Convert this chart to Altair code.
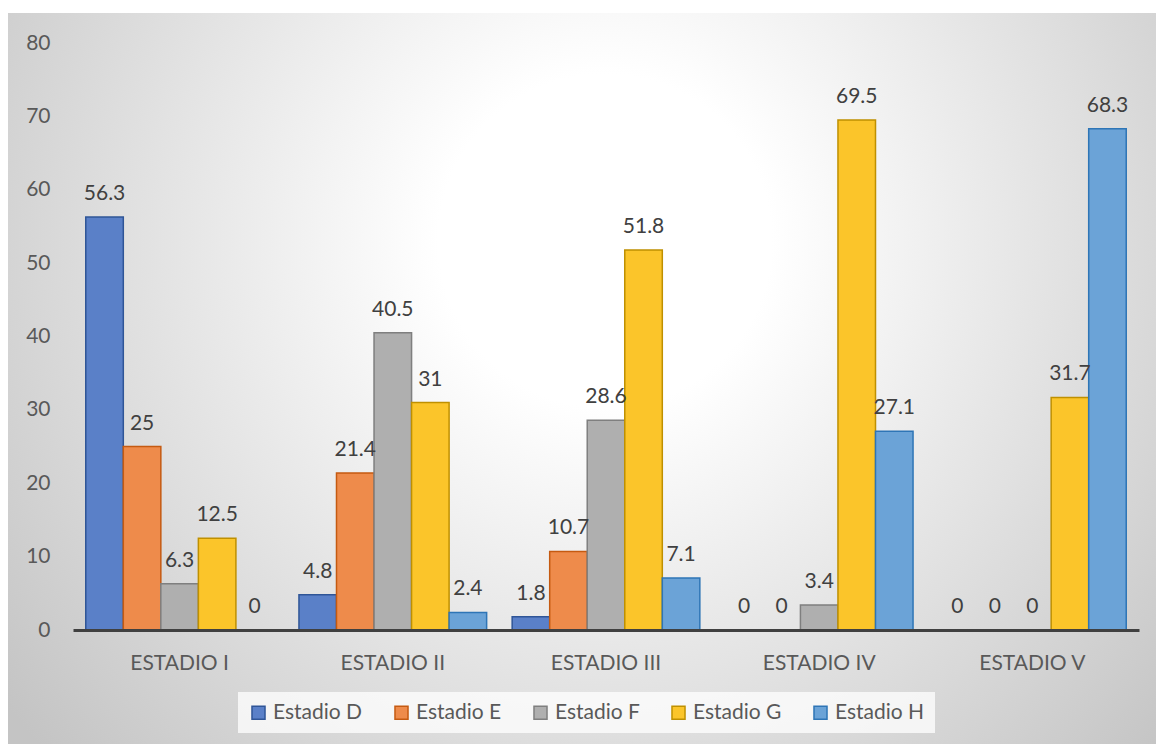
import altair as alt
import pandas as pd

categories = ["ESTADIO I", "ESTADIO II", "ESTADIO III", "ESTADIO IV", "ESTADIO V"]
series = ["Estadio D", "Estadio E", "Estadio F", "Estadio G", "Estadio H"]
estadio_d = [56.3, 4.8, 1.8, 0, 0]
estadio_e = [25, 21.4, 10.7, 0, 0]
estadio_f = [6.3, 40.5, 28.6, 3.4, 0]
estadio_g = [12.5, 31, 51.8, 69.5, 31.7]
estadio_h = [0, 2.4, 7.1, 27.1, 68.3]
y_ticks = [0, 10, 20, 30, 40, 50, 60, 70, 80]

fills = ["#5A80C8", "#EE8B4B", "#AFAFAF", "#FBC52A", "#6BA3D7"]
strokes = ["#2F5597", "#C55A11", "#7F7F7F", "#BF9000", "#2E75B6"]

rows = []
for s, vals in zip(series, [estadio_d, estadio_e, estadio_f, estadio_g, estadio_h]):
    for c, v in zip(categories, vals):
        rows.append({"cat": c, "serie": s, "value": v, "label": f"{v:g}"})
df = pd.DataFrame(rows)

FONT = "Lato"
W, H = 1066, 587

grad = alt.RadialGradient(
    gradient="radial",
    stops=[
        alt.GradientStop(color="#ffffff", offset=0),
        alt.GradientStop(color="#ffffff", offset=0.22),
        alt.GradientStop(color="#c4c4c4", offset=1),
    ],
    x1=0.52, y1=0.38, r1=0, x2=0.52, y2=0.38, r2=0.66,
)

bg = alt.Chart(pd.DataFrame({"a": [0]})).mark_rect(fill=grad).encode(
    x=alt.value(-65), x2=alt.value(1083), y=alt.value(-30), y2=alt.value(701)
)

legend = alt.Legend(
    title=None, orient="none", legendX=165, legendY=649, direction="horizontal",
    fillColor="rgba(255,255,255,0.75)", padding=10, symbolType="square",
    symbolSize=170, symbolStrokeWidth=1.5, labelFontSize=21, labelFont=FONT,
    labelColor="#595959", columnPadding=28, labelOffset=4,
)

x_enc = alt.X(
    "cat:N", sort=categories,
    scale=alt.Scale(paddingInner=0, paddingOuter=0),
    axis=alt.Axis(
        title=None, labelAngle=0, ticks=False, tickSize=0, domainColor="#404040",
        domainWidth=3, labelFontSize=21, labelFont=FONT, labelColor="#595959",
        labelPadding=22, zindex=1, grid=False,
    ),
)
xo_enc = alt.XOffset("serie:N", sort=series, scale=alt.Scale(paddingInner=0, paddingOuter=0.34))
y_enc = alt.Y(
    "value:Q", scale=alt.Scale(domain=[0, 80], nice=False),
    axis=alt.Axis(
        title=None, values=y_ticks, domain=False, ticks=False, tickSize=0, grid=False,
        labelFontSize=21, labelFont=FONT, labelColor="#595959", labelPadding=23,
        zindex=1,
    ),
)

bars = alt.Chart(df).mark_bar(strokeWidth=1.5).encode(
    x=x_enc, xOffset=xo_enc, y=y_enc,
    fill=alt.Fill("serie:N", sort=series, scale=alt.Scale(domain=series, range=fills), legend=legend),
    stroke=alt.Stroke("serie:N", sort=series, scale=alt.Scale(domain=series, range=strokes), legend=legend),
)

labels = alt.Chart(df).mark_text(
    dy=-17, baseline="alphabetic", fontSize=21, font=FONT, color="#404040"
).encode(x=x_enc, xOffset=xo_enc, y=y_enc, text="label:N")

chart = alt.layer(bg, bars, labels).properties(
    width=W, height=H,
    autosize=alt.AutoSizeParams(type="none"),
    padding={"left": 73, "top": 43, "right": 17, "bottom": 114},
    background="white",
).configure_view(stroke=None)

chart.save("out.html", embed_options={"renderer": "svg", "actions": False})
